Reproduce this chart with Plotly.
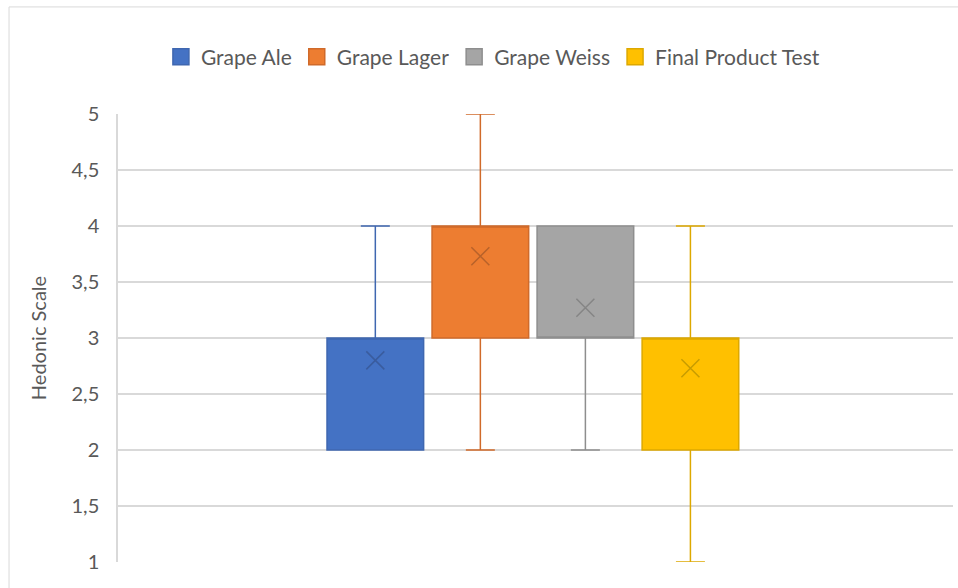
import plotly.graph_objects as go

categories = ["Grape Ale", "Grape Lager", "Grape Weiss", "Final Product Test"]
q1 = [2, 3, 3, 2]
median = [3, 4, 3, 3]
q3 = [3, 4, 4, 3]
lower = [2, 2, 2, 1]
upper = [4, 5, 4, 4]
means = [2.8, 3.73, 3.27, 2.73]

fills = ["#4472C4", "#ED7D31", "#A5A5A5", "#FFC000"]
borders = ["#3F67B0", "#D06A2A", "#8E8E8E", "#DDA800"]
xcolors = ["#3A5C9E", "#B8622A", "#858585", "#C79C00"]

fig = go.Figure()
for i, name in enumerate(categories):
    pos = i - 1.5
    fig.add_trace(go.Box(
        x=[pos], q1=[q1[i]], median=[median[i]], q3=[q3[i]],
        lowerfence=[lower[i]], upperfence=[upper[i]],
        width=0.92, whiskerwidth=0.3,
        fillcolor=fills[i], line=dict(color=borders[i], width=1.5),
        showlegend=False, hoverinfo="skip", boxpoints=False,
    ))
    fig.add_trace(go.Scatter(
        x=[pos], y=[means[i]], mode="markers",
        marker=dict(symbol="x-thin", size=18, line=dict(color=xcolors[i], width=1.5)),
        showlegend=False, hoverinfo="skip",
    ))
for i, name in enumerate(categories):
    fig.add_trace(go.Scatter(
        x=[None], y=[None], mode="markers", name=name,
        marker=dict(symbol="square", size=16, color=fills[i],
                    line=dict(color=borders[i], width=1.5)),
    ))

fig.update_layout(
    width=958, height=588,
    margin=dict(l=118, r=5, t=114, b=26),
    paper_bgcolor="white", plot_bgcolor="white",
    separators=",.",
    font=dict(family="Lato", size=20, color="#595959"),
    showlegend=True,
    legend=dict(orientation="h", x=0.449, xanchor="center", y=1.127, yanchor="middle",
                font=dict(size=21, color="#595959"), bgcolor="rgba(0,0,0,0)"),
    xaxis=dict(range=[-3.95, 4.0], showticklabels=False, showgrid=False,
               zeroline=False, showline=False, fixedrange=True),
    yaxis=dict(range=[1, 5], dtick=0.5, showgrid=True, gridcolor="#D9D9D9", gridwidth=1.5,
               zeroline=False, showline=True, linecolor="#D9D9D9", linewidth=1.5,
               ticks="", ticklabelstandoff=13,
               title=dict(text="Hedonic Scale", standoff=20, font=dict(size=20, color="#595959"))),
    shapes=[dict(type="rect", xref="paper", yref="paper", x0=-0.1305, x1=1.2,
                 y0=-0.3, y1=1.239, line=dict(color="#D9D9D9", width=1), layer="below")],
)

fig.write_html("out.html")
